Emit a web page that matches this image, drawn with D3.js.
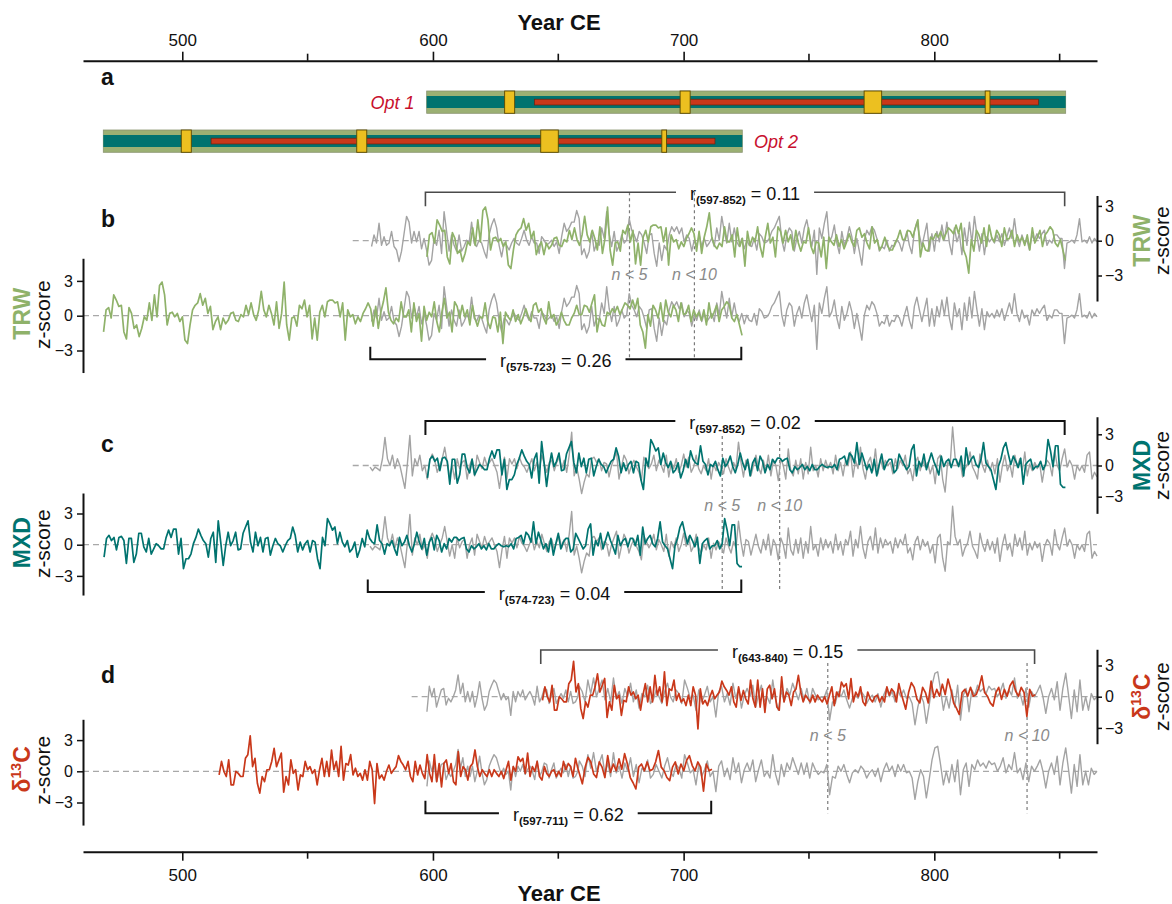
<!DOCTYPE html>
<html><head><meta charset="utf-8">
<script src="https://cdn.jsdelivr.net/npm/d3@7"></script>
<style>body{margin:0;background:#fff;} svg{display:block;font-family:"Liberation Sans",Arial,Helvetica,sans-serif;}</style>
</head><body><svg id="c" width="1172" height="904"></svg>
<script>
// ---------------- DATA ----------------
const xTickYears = [500, 600, 700, 800];
const xMinorYears = [550, 650, 750, 850];
const zTicks = [-3, 0, 3];
const optShift = 129;               // Opt 1 placement = Opt 2 placement + 129 yr
const optLabels = ["Opt 1", "Opt 2"];

// TRW z-scores (floating chronology, years given for Opt 2 placement)
const trwYears = [468.6, 723.3];
const trwZ = [-1.4,0.5,0.7,-0.2,1.8,1.35,0.8,0.9,-1.4,-2.0,0.7,0.2,-1.1,-0.8,-1.8,-1.1,-0.1,-0.4,1.1,-0.4,
1.8,-0.1,2.6,2.9,1.8,-0.8,0.2,0.3,-0.1,0.2,-0.5,-0.1,-2.1,-2.4,-0.8,0.5,0.9,1.1,1.9,0.9,
1.5,0.2,0.8,-1.2,-0.5,-0.1,-1.2,-0.2,-0.7,-0.4,0.2,0.3,-0.4,-0.5,0.1,-0.1,0.9,0.1,1.1,0.1,
-0.4,0.5,2.1,0.5,-0.1,0.9,0.2,-0.8,1.2,-1.1,0.2,2.9,-0.8,-2.1,-0.2,-0.1,-0.9,0.9,0.6,1.35,
-0.1,0.9,-2.0,-0.2,-2.1,0.3,0.9,-0.1,1.2,1.35,1.35,1.1,1.2,-0.1,1.1,-2.1,0.5,-0.1,0.1,-0.7,
-0.1,-0.5,0.2,0.6,1.1,0.6,-0.9,0.8,-1.1,0.3,1.2,2.4,0.3,-0.4,-0.7,-0.2,-0.5,1.2,-0.1,-0.1,
0.5,-1.4,1.1,-0.5,0.2,-2.2,0.8,-0.4,0.3,-0.1,1.2,-0.5,-1.4,0.3,1.5,-0.2,0.3,-1.4,1.2,0.8,
-0.2,0.9,-0.1,0.5,-0.8,0.9,-0.2,-0.9,-0.1,-0.2,1.1,-0.5,-1.1,-0.1,-0.2,-1.4,0.3,-2.4,0.3,-0.1,
-0.4,0.5,-0.5,0.1,-0.7,-0.1,0.6,-0.1,-0.5,0.9,1.1,0.3,0.6,-0.2,-0.7,1.2,-0.2,0.1,-0.8,-0.4,
0.3,-0.4,-0.8,-0.8,-0.2,0.2,0.9,0.1,0.1,0.9,0.8,0.3,1.1,1.8,-1.4,-0.2,-0.8,-0.9,0.3,0.1,
0.6,0.3,0.8,0.1,0.6,1.1,0.9,0.6,1.35,0.6,1.5,-0.8,-1.4,-2.8,0.1,-0.9,0.9,0.5,-0.2,1.1,
-0.5,1.35,0.3,-0.1,0.9,0.5,-0.5,1.1,0.1,0.2,0.9,-0.5,0.5,-0.1,0.3,-0.4,0.5,-0.8,1.1,-0.2,
0.3,0.9,-0.5,0.5,0.8,1.2,0.9,-0.2,-0.5,0.1,-0.8,-1.7];

// MXD z-scores (Opt 2 placement)
const mxdYears = [468.8, 723.3];
const mxdZ = [-1.2,0.6,0.9,0.4,0.7,-0.5,0.7,0.8,0.4,-1.8,0.6,0.6,-1.7,-0.9,1.1,1.1,-0.2,-0.7,0.6,-0.9,
-0.4,0.1,-0.1,-0.4,-0.4,0.7,1.4,0.7,1.5,1.5,-0.9,0.6,-2.3,-1.35,-1.35,-0.9,0.1,0.7,1.5,0.9,
0.4,0.1,-1.2,0.6,1.2,-1.7,2.3,0.25,-2.0,-0.1,1.2,-0.1,0.4,1.2,-0.5,-0.4,1.1,1.7,2.3,0.25,
-0.7,1.2,-0.1,0.7,-0.7,0.6,0.7,-1.0,-0.1,0.6,0.1,-0.1,-0.7,-0.1,0.4,0.6,1.7,0.9,-0.7,0.25,
-0.5,0.1,0.4,-0.7,0.4,0.25,-1.35,-2.3,0.7,-0.1,2.5,2.0,1.4,1.7,0.1,1.2,0.25,-0.2,0.4,-0.7,
-0.4,0.25,-1.2,-0.5,0.6,-0.2,1.4,0.6,0.25,0.1,1.9,0.4,0.1,-0.9,0.1,-0.1,0.4,-0.4,-1.0,0.7,
-0.1,0.25,0.9,-0.1,-0.7,0.1,1.2,0.25,-0.4,0.6,-1.0,0.25,0.7,-0.5,0.9,0.4,-0.7,0.1,-0.4,0.6,
0.25,0.7,0.7,0.4,0.6,0.7,-0.4,-0.7,-0.1,-0.4,-0.2,0.1,-0.4,-0.1,-0.5,0.1,-0.4,-0.4,-0.1,0.1,
-0.1,-0.2,-0.1,-0.2,0.1,-0.4,0.6,0.7,0.9,0.1,1.2,0.9,0.25,2.2,0.1,1.2,0.4,-0.4,0.1,-0.7,
0.6,-1.0,0.1,1.1,-0.4,0.25,0.6,0.6,-0.7,-0.4,1.1,0.6,0.1,-0.4,-0.1,1.5,2.0,
-1.0,0.4,-0.1,1.1,-0.4,0.4,1.2,0.4,-0.2,-0.9,0.9,-0.1,0.4,0.6,-0.2,0.6,0.6,-0.1,0.9,-1.0,
1.7,0.1,0.6,0.9,0.1,-0.2,0.6,2.2,0.25,-0.1,-0.4,-1.35,-2.3,-0.1,0.6,1.7,2.2,1.1,0.1,0.9,
0.4,-0.2,0.7,-1.8,0.1,0.4,0.6,-0.4,-0.1,-0.1,0.4,-0.4,0.1,2.5,1.4,-0.1,1.9,1.9,-1.8,-2.1,-2.1];

// d13C z-scores (Opt 2 placement), two read-off stretches
const d13cYears1 = [514.7, 657.8];
const d13cZ1 = [-0.35,0.95,0,-0.5,1.1,-1.3,-1.3,0,-0.2,-0.5,-0.5,1.25,1.6,3.4,0.45,1.25,-1.15,-2.1,-0.5,-1.0,
0.15,0.15,0.95,2.2,0.45,1.1,1.75,-2.0,-0.5,-1.3,1.1,-0.2,0.15,-1.8,-0.35,-0.5,0.95,0.15,0.45,-0.2,
0.15,-1.3,0.15,1.25,-0.5,0.95,-0.5,2.05,0.15,0.95,-0.5,2.4,-0.85,0.75,0.6,1.6,-0.35,0.3,-0.5,-0.2,
-0.85,0.15,-0.85,0.95,0.15,-3.1,0.75,-0.7,-0.35,-0.85,0,0.6,-0.2,0.15,0.45,1.5,0.95,0.6,0.15,0.95,
-0.5,-1.0,0.95,-0.35,0.6,-0.2,-0.7,1.6,-0.2,-1.0,1.6,-1.0,0.75,-1.5,0.75,1.1,-0.2,0.75,-1.0,-1.3,
1.9,-0.5,0.45,0.15,-0.85,0.45,0.75,2.05,0.45,-0.5,0.15,-0.2,-0.5,0.15,-0.5,0.15,-0.2,-0.5,0,-0.7,
0.15,0.95,-0.85,0.45,0,1.4,0.95,1.25,-0.2,1.75,-0.5,0.45,0,0.95,-0.5,-0.85,0.45,-0.2,-0.5,0,
0.15,-0.5,0,-0.5,0.95,0.15,0.75,0.45,-0.5,1.25,0.3];
const d13cYears2 = [659.6, 711.3];
const d13cZ2 = [-1.2,0.4,1.35,0.9,-0.25,-0.6,0.9,0.4,-0.6,1.5,-0.1,0.7,0.05,1.2,0.2,1.7,0.7,-0.6,-1.1,-1.7,
0.4,0.7,0.05,0.9,0.05,0.2,0.9,2.0,0.4,0.05,-0.6,-0.9,0.4,0.9,-0.25,0.7,0.05,1.05,1.5,0.55,
0.05,0.9,0.4,-1.9,0.7,0.05,0.2];

// Reference chronologies (grey), calendar years CE
const refTrwYears = [575.5, 864.9];
const refTrwZ = [-0.5,0.5,-0.2,1.5,-0.4,0.35,-0.4,-0.2,0.8,-0.5,-0.8,-1.8,-0.9,0.6,2.1,1.6,-0.2,0.8,-0.1,0.8,
-0.7,0.2,-0.8,-2.1,-1.7,0.2,-0.4,0.9,-1.1,2.5,0.8,-0.9,0.5,-0.4,-0.9,0.5,-0.9,-0.5,0.05,-0.2,
1.6,-0.2,-0.5,0.05,-0.2,-0.9,-1.5,0.5,1.35,1.9,1.1,-0.4,-1.4,-0.2,-0.4,-0.8,-0.2,0.2,-0.2,-0.4,
0.2,0.9,0.05,-0.4,0.35,-0.2,-0.2,-1.1,0.35,0.05,-0.4,-0.2,0.05,-0.5,-0.1,-1.1,0.35,1.5,0.8,1.1,
1.6,1.6,2.6,1.9,-1.2,-0.7,-1.5,-0.9,0.8,
-0.9,-0.2,-0.4,1.1,0.2,2.5,0.6,-0.5,0.8,-0.9,-0.4,0.5,-0.2,0.05,1.9,0.9,0.5,-0.1,0.8,0.5,
-0.2,-1.1,0.5,0.6,-1.1,-2.2,-0.2,-1.7,-0.4,-0.8,0.5,1.2,0.8,1.2,0.6,1.1,-0.1,0.5,0.2,-0.9,
0.05,-0.4,0.5,-0.5,0.2,-0.5,-0.2,0.2,-0.5,1.1,0.05,2.1,0.8,-0.2,1.5,-0.1,1.1,-0.1,-0.5,0.2,
-0.7,0.05,-0.4,-0.5,0.2,-0.8,0.6,0.35,-0.2,-0.1,0.2,0.8,1.1,1.6,2.1,0.05,-0.9,0.5,1.1,0.8,
-0.9,0.2,0.8,-0.2,1.1,1.8,0.6,-0.5,0.9,-2.9,1.1,0.2,1.5,2.5,-0.1,0.35,1.35,-0.2,-1.1,0.8,
-0.4,0.2,1.2,0.35,-1.1,0.2,-0.9,-2.1,0.05,0.9,0.5,1.2,0.9,0.2,-0.9,-0.5,-0.7,0.05,-0.9,-0.4,
-0.5,0.05,-0.2,-0.9,0.05,0.8,-0.4,-1.1,0.8,1.6,0.5,-0.5,0.5,1.5,-0.9,0.6,-0.9,0.8,-0.1,1.35,
0.05,1.6,-0.2,-1.2,1.1,-0.1,0.6,-1.2,1.1,-0.4,1.6,-0.2,2.1,0.5,-0.9,0.6,-1.2,0.35,-0.1,0.2,
-0.2,0.5,-0.1,0.6,-0.4,0.35,1.1,0.2,1.9,0.2,-0.5,0.5,-0.2,0.05,-0.8,0.5,0.05,0.6,0.2,0.6,
0.9,-0.4,0.05,-0.2,0.5,0.5,0.2,0.2,-2.4,-0.2,-0.1,0.05,-0.2,0.5,1.9,-0.1,0.05,-0.2,0.35,-0.2,
0.2,-0.1];

const refMxdYears = [574.9, 864.9];
const refMxdZ = [-0.15,-0.5,-0.15,-0.3,-0.5,0.65,2.7,0.65,0,1.0,-0.3,0.65,0,-1.1,-2.2,0.15,2.9,-1.0,0.65,0,
1.0,-0.5,0,-1.3,0.5,1.1,0.5,-0.65,0,0.65,1.75,0.3,-1.1,0,-1.3,0.65,-0.3,0.3,0.5,-1.3,
0,0.65,-1.0,1.0,0.3,-0.3,0.8,0,0.3,0.65,0,-0.65,-2.2,-0.5,0.8,-1.3,0.65,0.15,0.65,-0.3,
0.8,0.15,-0.15,-0.65,0,0.65,-0.5,0.3,-0.3,1.0,0.15,-0.65,0.3,0.5,-0.5,0.3,0.8,-0.3,0.5,-0.65,
1.0,3.2,-1.0,-0.15,-1.3,-2.7,-1.6,-0.8,-1.1,0.65,
0.8,0.3,0.65,-0.5,0.3,0.15,-1.1,0,0.65,1.3,-1.3,-0.15,1.0,0.5,-0.8,0,0.5,-0.15,-0.65,-1.45,
0.8,0.3,-0.3,0.15,1.0,-0.5,0.5,0,-0.65,1.0,-1.1,0.3,-0.3,0.65,-0.65,0,1.1,-0.15,0.8,-0.65,
-0.15,1.0,-0.3,-0.8,0,-0.5,0.65,-1.3,0.15,-0.5,0.3,-0.15,-0.8,0.65,-0.15,-0.8,0.3,-0.3,2.25,0.3,
-1.1,0.5,0.3,-1.0,0,1.0,-0.15,-0.8,0.5,-0.5,1.0,-1.0,0.5,0,-1.45,0.65,0,-1.3,1.6,-0.5,
-1.0,0.5,-0.8,0.65,-1.3,0.3,-0.8,1.75,-0.5,0,-1.1,0.65,-0.5,0.5,-0.3,0.3,-0.8,1.0,-0.5,0.3,
-1.0,0.5,0,1.3,-1.1,0.5,-0.3,1.75,-0.3,-1.3,0.3,0.8,-0.5,1.6,-0.8,0.65,-0.3,0.5,0,0.3,
-0.8,0.65,-0.3,0.5,0,1.0,-0.8,-0.3,-1.45,0.3,0.8,-0.5,0.5,-0.15,0.3,-0.8,0,-1.75,0.65,1.0,
-1.3,-2.55,0.3,0,3.7,0.8,0,0.5,-1.1,-0.3,0.15,1.3,-0.15,-0.65,-1.3,1.1,0,-0.65,0.5,-0.5,
0.3,-0.8,0.65,-1.6,0,1.0,-0.5,0.15,-1.1,1.0,-0.15,0.65,-0.5,1.3,-1.0,0.15,-0.5,0.3,-0.3,0.15,
-1.6,-0.15,0.5,0.15,-1.0,1.45,0,-0.5,0.65,1.6,-0.15,0.5,0,-1.3,0,-0.5,0,-0.65,1.0,1.3,
-1.3,-0.65,-1.1];

const refD13cYears1 = [597.6, 657.8];
const refD13cZ1 = [-1.45,1.0,0,0.8,-1.0,-0.15,0.65,0.8,-0.8,-0.15,-0.5,0,0.65,2.1,0.3,1.3,-0.5,0.5,-0.5,0.5,
-1.0,0,1.45,-0.15,-1.3,-0.8,0.5,1.1,1.6,1.3,0.5,-0.3,0.3,-0.3,0,-1.8,0.5,-0.5,0.5,0,
0.65,-0.3,0.15,0.5,0,-0.8,1.0,-0.5,0,0.8,0.65,-0.65,0.15,0.8,-0.65,-0.15,0.3,-0.15,0.65,-0.5,
0.5,-0.65,-0.5,0];
const refD13cYears2 = [658.4, 864.9];
const refD13cZ2 = [1.0,0.5,-0.5,1.6,0.3,1.8,0,0.8,1.6,-0.3,0.8,-0.5,1.8,-0.15,0.5,-0.65,0.8,0,1.3,-0.5,
0.65,-1.1,0.3,0,1.1,-0.65,-0.3,0.65,0,-0.65,0.5,1.3,0,-0.5,0.65,0.3,-0.65,1.6,0.8,-0.15,
0.15,-1.3,0.65,-0.5,0.15,1.0,-0.5,0,-1.95,0.5,1.0,-0.5,0.3,-0.8,1.3,-0.15,0.8,-1.1,0.15,0.8,
0,1.1,-1.0,0.15,1.1,-0.5,0,-0.65,1.6,-0.3,-1.3,0.65,-0.5,0.8,0.15,1.3,0.5,-0.3,0.8,-0.3,
0.8,-0.65,0.8,0.15,-0.3,0,-0.15,0.65,-2.25,-0.5,-0.65,0.5,0,0.65,-0.3,-1.1,-0.15,0.15,-0.15,0.5,
0.15,-0.65,-0.15,0.15,-0.5,0.3,-1.0,0.15,0.8,0,0.5,-0.5,0.65,0,0.65,-0.15,0,-0.65,-2.7,-1.0,
0.15,-0.5,-2.55,-0.8,1.1,2.25,2.4,0.65,-1.3,0,-1.1,0.65,-1.0,1.1,-2.25,0.15,0.8,-1.45,0.65,0.15,
1.1,0.5,0.8,0.3,1.0,0.65,0.8,0,0.5,1.3,-0.15,0.65,0.15,1.8,-0.15,0.3,-0.8,0.8,-1.0,0.5,
0,0.5,1.1,0,-1.6,0,0.8,-0.3,1.45,-1.3,0.8,2.25,0.15,-2.1,0.65,-1.45,1.6,-1.3,0,-1.3,
0.3,-0.3,0];

// Panel a: sample coverage (Opt 2 years) and marker years
const chronoSpan = [468.5, 723.4];
const d13cSpan = [511.5, 712.5];
const markerSpans = [[499.6,503.6],[569.6,573.6],[643,650],[691.3,693.2]];

// Correlation brackets and sample-depth markers
const corrB = [{yrs:[597,852], per:"597-852", r:"0.11"}, {yrs:[575,723], per:"575-723", r:"0.26"}];
const corrC = [{yrs:[597,852], per:"597-852", r:"0.02"}, {yrs:[574,723], per:"574-723", r:"0.04"}];
const corrD = [{yrs:[643,840], per:"643-840", r:"0.15"}, {yrs:[597,711], per:"597-711", r:"0.62"}];
const depthB = [678.4, 704.3];
const depthC = [715.4, 738.3];
const depthD = [757.5, 837];
const depthLabels = ["n < 5", "n < 10"];

// ---------------- DRAWING ----------------
const svg = d3.select("#c");
const FONT = '"Liberation Sans", Arial, Helvetica, sans-serif';
const x = d3.scaleLinear().domain([460.4, 864.9]).range([83, 1097]);
const C = {trw:"#8fb26a", trwBar:"#9bb073", mxd:"#00736f", d13c:"#c9381a", grey:"#a3a3a3", yellow:"#ecc020", opt:"#c8102e"};

function pts(segs, shift){
  const out = [];
  segs.forEach(([vals, yr]) => {
    const n = vals.length;
    vals.forEach((v, i) => out.push([yr[0] + (yr[1]-yr[0]) * i / (n-1) + shift, v]));
  });
  return out;
}

// top & bottom axes
function timeAxis(y, top){
  const g = svg.append("g").attr("transform", `translate(0,${y})`);
  const ax = (top ? d3.axisTop(x) : d3.axisBottom(x)).tickValues(xTickYears).tickSize(9).tickSizeOuter(0).tickPadding(top?6:8);
  g.call(ax);
  g.select(".domain").attr("stroke", "#111").attr("stroke-width", 2);
  g.selectAll(".tick line").attr("stroke", "#111").attr("stroke-width", 1.6);
  g.selectAll(".tick text").attr("font-size", 17).attr("font-family", FONT).attr("fill", "#111");
  const mg = svg.append("g").attr("transform", `translate(0,${y})`);
  mg.selectAll("line").data(xMinorYears).join("line")
    .attr("x1", d => x(d)).attr("x2", d => x(d)).attr("y1", 0).attr("y2", top ? -7 : 7)
    .attr("stroke", "#111").attr("stroke-width", 1.6);
  svg.append("text").attr("x", 559).attr("y", top ? 29.5 : 900.5).attr("text-anchor", "middle")
    .attr("font-size", 22).attr("font-weight", "bold").attr("fill", "#111").text("Year CE");
}
timeAxis(60.7, true);
timeAxis(851.7, false);

// panel letters
[["a",85],["b",226.7],["c",452],["d",683.3]].forEach(([l, yy]) =>
  svg.append("text").attr("x", 101).attr("y", yy).attr("font-size", 23).attr("font-weight", "bold").attr("fill", "#111").text(l));

// panel a bars
function optBar(top, shift){
  const g = svg.append("g");
  const h = 22.3;
  g.append("rect").attr("x", x(chronoSpan[0]+shift)).attr("width", x(chronoSpan[1]+shift)-x(chronoSpan[0]+shift))
    .attr("y", top).attr("height", h).attr("fill", C.trwBar).attr("stroke", "#8a9470").attr("stroke-width", 0.8);
  g.append("rect").attr("x", x(chronoSpan[0]+shift)).attr("width", x(chronoSpan[1]+shift)-x(chronoSpan[0]+shift))
    .attr("y", top+5).attr("height", 12).attr("fill", C.mxd);
  g.append("rect").attr("x", x(d13cSpan[0]+shift)).attr("width", x(d13cSpan[1]+shift)-x(d13cSpan[0]+shift))
    .attr("y", top+8.2).attr("height", 5.8).attr("fill", C.d13c).attr("stroke", "#6b2310").attr("stroke-width", 0.7);
  g.selectAll(".m").data(markerSpans).join("rect")
    .attr("x", d => x(d[0]+shift)).attr("width", d => x(d[1]+shift)-x(d[0]+shift))
    .attr("y", top).attr("height", h).attr("fill", C.yellow).attr("stroke", "#5a4800").attr("stroke-width", 0.9);
}
optBar(91, optShift);
optBar(130, 0);
svg.append("text").attr("x", 414.5).attr("y", 108.5).attr("text-anchor", "end").attr("font-size", 18)
  .attr("font-style", "italic").attr("fill", C.opt).text(optLabels[0]);
svg.append("text").attr("x", 754).attr("y", 147.5).attr("font-size", 18)
  .attr("font-style", "italic").attr("fill", C.opt).text(optLabels[1]);

// time-series panels
const panels = [
  {name:"TRW", color:C.trw, unit:11.6,
   up:{zero:240.7, lo:-5.2, hi:3.9}, low:{zero:315.7, lo:-4.9, hi:4.95},
   ref:[[refTrwZ, refTrwYears]], prox:[[trwZ, trwYears]], zeroStart:568,
   corr:corrB, brUp:{y:192.3, col:"#4a4a4a", w:1.6}, brLow:{y:359.3},
   depth:depthB, nTop:192.3, nBot:359.3, nLab:280},
  {name:"MXD", color:C.mxd, unit:10.4,
   up:{zero:465.5, lo:-4.6, hi:4.69}, low:{zero:544.7, lo:-4.84, hi:4.97},
   ref:[[refMxdZ, refMxdYears]], prox:[[mxdZ, mxdYears]], zeroStart:568,
   corr:corrC, brUp:{y:421, col:"#111", w:2}, brLow:{y:592},
   depth:depthC, nTop:436, nBot:592, nLab:511},
  {name:"d13C", color:C.d13c, unit:10.4,
   up:{zero:696.7, lo:-4.52, hi:4.56}, low:{zero:771.3, lo:-5.17, hi:5.0},
   ref:[[refD13cZ1, refD13cYears1],[refD13cZ2, refD13cYears2]], prox:[[d13cZ1, d13cYears1],[d13cZ2, d13cYears2]], zeroStart:591.5,
   corr:corrD, brUp:{y:650, col:"#4a4a4a", w:1.6}, brLow:{y:813.3},
   depth:depthD, nTop:663, nBot:813.3, nLab:741}
];

function nameLabel(g, p, xx, cy){
  const t = g.append("text").attr("transform", `translate(${xx},${cy}) rotate(-90)`).attr("text-anchor", "middle")
    .attr("font-size", 23).attr("font-weight", "bold").attr("fill", p.color);
  if (p.name === "d13C"){
    t.append("tspan").text("δ");
    t.append("tspan").attr("font-size", 14).attr("dy", -9).text("13");
    t.append("tspan").attr("dy", 9).text("C");
  } else t.text(p.name);
}
function zLabel(g, xx, cy){
  g.append("text").attr("transform", `translate(${xx},${cy}) rotate(-90)`).attr("text-anchor", "middle")
    .attr("font-size", 21).attr("fill", "#111").text("z-score");
}

function bracket(g, c, yLine, down, col, w){
  const x0 = x(c.yrs[0]), x1 = x(c.yrs[1]), mid = (x0+x1)/2;
  const t = g.append("text").attr("x", mid).attr("y", yLine+7.5).attr("text-anchor", "middle")
    .attr("font-size", 18).attr("fill", "#111");
  t.append("tspan").text("r");
  t.append("tspan").attr("font-size", 11.5).attr("font-weight", "bold").attr("dy", 4).text("(" + c.per + ")");
  t.append("tspan").attr("dy", -4).text(" = " + c.r);
  const bb = t.node().getBBox();
  const pad = 14;
  const tick = down ? 14 : -12.5;
  const path = `M${x0},${yLine+tick}V${yLine}H${bb.x-pad}M${bb.x+bb.width+pad},${yLine}H${x1}V${yLine+tick}`;
  g.insert("path", "text").attr("d", path).attr("fill", "none").attr("stroke", col).attr("stroke-width", w);
}

panels.forEach(p => {
  const g = svg.append("g");
  const mkY = s => d3.scaleLinear().domain([s.lo, s.hi]).range([s.zero - s.lo*p.unit, s.zero - s.hi*p.unit]);
  const yUp = mkY(p.up), yLow = mkY(p.low);

  // zero lines
  g.append("line").attr("x1", x(p.zeroStart)).attr("x2", 1097).attr("y1", yUp(0)).attr("y2", yUp(0))
    .attr("stroke", "#a8a8a8").attr("stroke-width", 1.3).attr("stroke-dasharray", "6,4");
  g.append("line").attr("x1", 83).attr("x2", 1097).attr("y1", yLow(0)).attr("y2", yLow(0))
    .attr("stroke", "#a8a8a8").attr("stroke-width", 1.3).attr("stroke-dasharray", "6,4");

  // sample-depth lines
  p.depth.forEach((yr, i) => {
    g.append("line").attr("x1", x(yr)).attr("x2", x(yr)).attr("y1", p.nTop).attr("y2", p.nBot)
      .attr("stroke", "#7a7a7a").attr("stroke-width", 1.2).attr("stroke-dasharray", "3,3");
    g.append("text").attr("x", x(yr)).attr("y", p.nLab).attr("text-anchor", "middle").attr("font-size", 16)
      .attr("font-style", "italic").attr("fill", "#8a8a8a").text(depthLabels[i]);
  });

  const lineUp = d3.line().x(d => x(d[0])).y(d => yUp(d[1]));
  const lineLow = d3.line().x(d => x(d[0])).y(d => yLow(d[1]));
  const refPts = pts(p.ref, 0);
  [lineUp, lineLow].forEach(L => g.append("path").attr("d", L(refPts)).attr("fill", "none")
    .attr("stroke", C.grey).attr("stroke-width", 1.4).attr("stroke-linejoin", "round"));
  g.append("path").attr("d", lineUp(pts(p.prox, optShift))).attr("fill", "none")
    .attr("stroke", p.color).attr("stroke-width", 1.7).attr("stroke-linejoin", "round");
  g.append("path").attr("d", lineLow(pts(p.prox, 0))).attr("fill", "none")
    .attr("stroke", p.color).attr("stroke-width", 1.7).attr("stroke-linejoin", "round");

  // axes
  const aR = g.append("g").attr("transform", "translate(1097,0)")
    .call(d3.axisRight(yUp).tickValues(zTicks).tickSize(5).tickSizeOuter(0).tickPadding(3));
  const aL = g.append("g").attr("transform", "translate(83,0)")
    .call(d3.axisLeft(yLow).tickValues(zTicks).tickSize(6).tickSizeOuter(0).tickPadding(4));
  [aR, aL].forEach(a => {
    a.select(".domain").attr("stroke", "#111").attr("stroke-width", 2);
    a.selectAll(".tick line").attr("stroke", "#111").attr("stroke-width", 1.5);
    a.selectAll(".tick text").attr("font-size", 16).attr("font-family", FONT).attr("fill", "#111");
  });

  // labels
  nameLabel(g, p, 30, yLow(0)-2);
  zLabel(g, 50, yLow(0)-1);
  nameLabel(g, p, 1150, yUp(0));
  zLabel(g, 1169, yUp(0));

  // correlation brackets
  bracket(g, p.corr[0], p.brUp.y, true, p.brUp.col, p.brUp.w);
  bracket(g, p.corr[1], p.brLow.y, false, "#111", 2);
});
</script></body></html>
